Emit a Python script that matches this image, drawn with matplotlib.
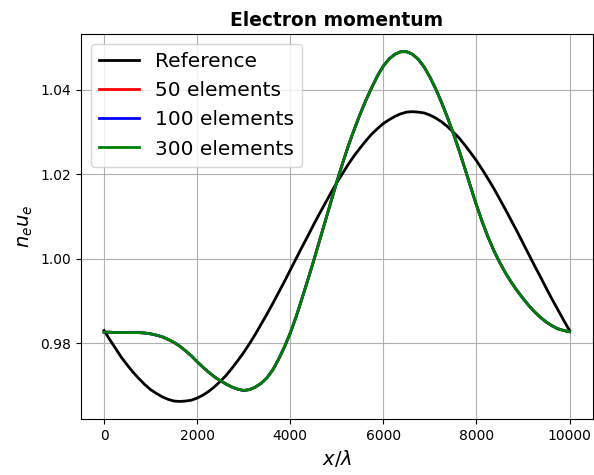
import numpy as np
import matplotlib
matplotlib.use("Agg")
import matplotlib.pyplot as plt

# x positions (x/lambda)
x = np.arange(0, 10001, 125)

# reference solution
ref = [0.9830, 0.9808, 0.9787, 0.9766, 0.9748, 0.9731, 0.9716, 0.9702, 0.9690,
       0.9681, 0.9673, 0.9667, 0.9663, 0.9662, 0.9663, 0.9665, 0.9670, 0.9677,
       0.9686, 0.9697, 0.9710, 0.9724, 0.9741, 0.9759, 0.9778, 0.9799, 0.9821,
       0.9845, 0.9869, 0.9894, 0.9920, 0.9946, 0.9973, 1.0000, 1.0027, 1.0053,
       1.0080, 1.0106, 1.0131, 1.0156, 1.0180, 1.0202, 1.0224, 1.0244, 1.0262,
       1.0279, 1.0295, 1.0308, 1.0320, 1.0329, 1.0337, 1.0343, 1.0347, 1.0348,
       1.0347, 1.0345, 1.0340, 1.0333, 1.0324, 1.0313, 1.0300, 1.0286, 1.0269,
       1.0251, 1.0232, 1.0211, 1.0189, 1.0166, 1.0141, 1.0116, 1.0090, 1.0064,
       1.0037, 1.0010, 0.9983, 0.9957, 0.9930, 0.9904, 0.9879, 0.9854, 0.9830]

# numerical solutions (all three overlap in the picture)
num = [0.9826, 0.9826, 0.9825, 0.9825, 0.9825, 0.9825, 0.9825, 0.9824, 0.9822,
       0.9819, 0.9815, 0.9809, 0.9802, 0.9793, 0.9782, 0.9770, 0.9756, 0.9743,
       0.9731, 0.9720, 0.9711, 0.9703, 0.9696, 0.9691, 0.9688, 0.9690, 0.9696,
       0.9705, 0.9718, 0.9737, 0.9762, 0.9791, 0.9824, 0.9862, 0.9905, 0.9949,
       0.9994, 1.0041, 1.0088, 1.0135, 1.0182, 1.0226, 1.0268, 1.0306, 1.0342,
       1.0375, 1.0405, 1.0433, 1.0456, 1.0473, 1.0484, 1.0490, 1.0490, 1.0484,
       1.0472, 1.0454, 1.0430, 1.0402, 1.0370, 1.0335, 1.0298, 1.0257, 1.0214,
       1.0170, 1.0127, 1.0087, 1.0051, 1.0019, 0.9991, 0.9966, 0.9944, 0.9924,
       0.9906, 0.9889, 0.9874, 0.9861, 0.9850, 0.9841, 0.9834, 0.9830, 0.9827]
num50 = num
num100 = num
num300 = num

fig = plt.figure(figsize=(5.94, 4.75), dpi=100)
ax = fig.add_axes([0.136, 0.118, 0.862, 0.81])

ax.plot(x, ref, color='black', lw=2, label='Reference')
ax.plot(x, num50, color='red', lw=2, label='50 elements')
ax.plot(x, num100, color='blue', lw=2, label='100 elements')
ax.plot(x, num300, color='green', lw=2, label='300 elements')

ax.set_title('Electron momentum', fontweight='bold', fontsize=13.4)
ax.set_xlabel(r'$x/\lambda$', fontsize=14)
ax.set_ylabel(r'$n_e u_e$', fontsize=14)
ax.set_yticks([0.98, 1.00, 1.02, 1.04])
ax.grid(True)
ax.legend(loc='upper left', fontsize=14.5)

fig.savefig('out.png', dpi=100)
